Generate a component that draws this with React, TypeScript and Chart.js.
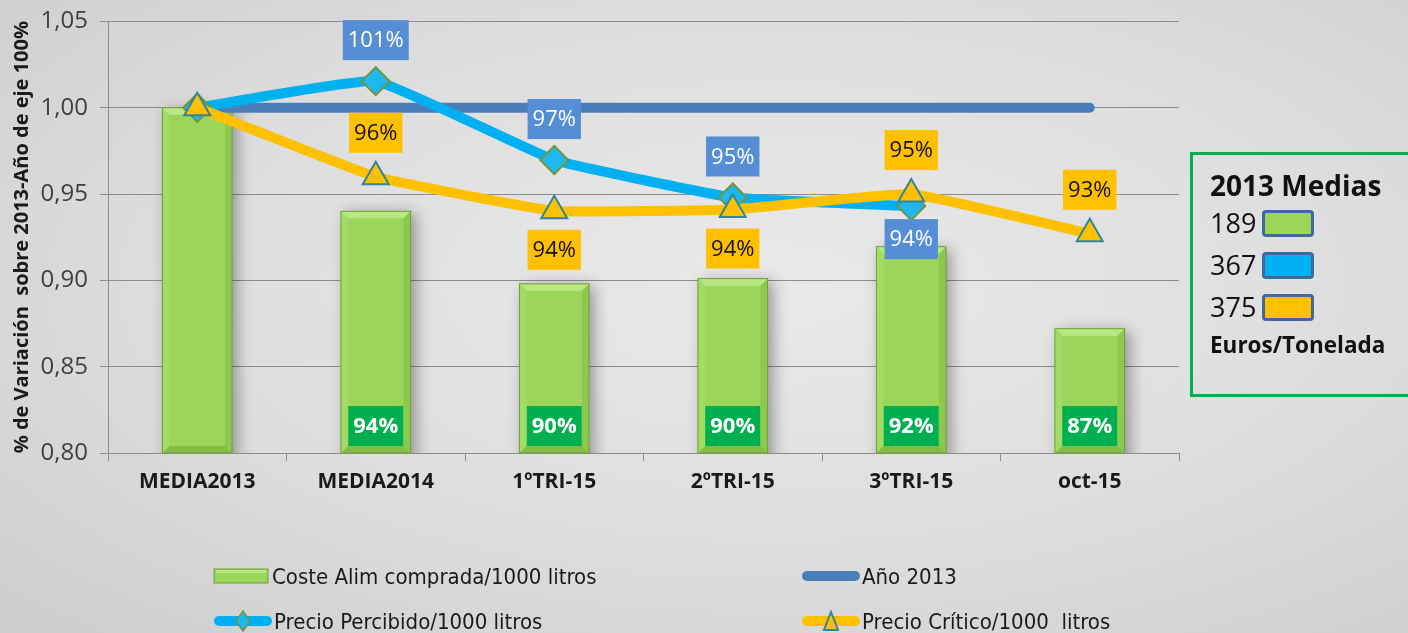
import React, { useEffect, useRef } from "react";
import { Chart, registerables } from "chart.js";
Chart.register(...registerables);

const categories = ["MEDIA2013", "MEDIA2014", "1ºTRI-15", "2ºTRI-15", "3ºTRI-15", "oct-15"];
const costeAlim = [1.0, 0.94, 0.898, 0.901, 0.9195, 0.872];
const ano2013 = [1, 1, 1, 1, 1, 1];
const precioPercibido = [1.0, 1.0154, 0.9697, 0.948, 0.943, null];
const precioCritico = [1.0, 0.96, 0.9403, 0.941, 0.95, 0.927];
const costeLabels = ["", "94%", "90%", "90%", "92%", "87%"];
const percibidoLabels = ["", "101%", "97%", "95%", "94%", ""];
const percibidoLabelPos = ["", "above", "above", "above", "below", ""];
const criticoLabels = ["", "96%", "94%", "94%", "95%", "93%"];
const criticoLabelPos = ["", "above", "below", "below", "above", "above"];
const mediasTitle = "2013 Medias";
const mediasValues = ["189", "367", "375"];
const mediasUnit = "Euros/Tonelada";
const seriesNames = [
  "Coste Alim comprada/1000 litros",
  "Año 2013",
  "Precio Percibido/1000 litros",
  "Precio Crítico/1000  litros",
];

const GREEN = "#9BD65A";
const DARKBLUE = "#4A7EBB";
const BLUE = "#00B0F0";
const YELLOW = "#FFC000";
const FONT = "'Open Sans', Lato, sans-serif";
const NARROW = "'Liberation Sans Narrow', 'DejaVu Sans Condensed', sans-serif";

const labelPlugin = {
  id: "boxLabels",
  beforeDatasetDraw(chart: any, args: any) {
    if (args.meta.type === "bar") {
      const ctx = chart.ctx;
      ctx.save();
      ctx.shadowColor = "rgba(0,0,0,0.35)";
      ctx.shadowBlur = 14;
      ctx.shadowOffsetX = 5;
      ctx.shadowOffsetY = 2;
    }
  },
  afterDatasetDraw(chart: any, args: any) {
    if (args.meta.type !== "bar") return;
    const ctx = chart.ctx;
    ctx.restore();
    const b = 7;
    const bottom = chart.chartArea.bottom;
    args.meta.data.forEach((el: any) => {
      const p = el.getProps(["x", "y", "base", "width"], true);
      const x = p.x;
      const y = p.y;
      const width = p.width;
      const base = Math.min(p.base, bottom);
      const l = x - width / 2;
      const r = x + width / 2;
      const poly = (pts: number[][], color: string) => {
        ctx.beginPath();
        ctx.moveTo(pts[0][0], pts[0][1]);
        pts.slice(1).forEach((q) => ctx.lineTo(q[0], q[1]));
        ctx.closePath();
        ctx.fillStyle = color;
        ctx.fill();
      };
      ctx.save();
      poly([[l, y], [r, y], [r - b, y + b], [l + b, y + b]], "#B9E883");
      poly([[l, base], [r, base], [r - b, base - b], [l + b, base - b]], "#84BC47");
      poly([[l, y], [l + b, y + b], [l + b, base - b], [l, base]], "#A4DB66");
      poly([[r, y], [r - b, y + b], [r - b, base - b], [r, base]], "#8CC74E");
      ctx.strokeStyle = "#6F9F3A";
      ctx.lineWidth = 1;
      ctx.strokeRect(l, y, width, base - y);
      ctx.restore();
    });
  },
  afterDatasetsDraw(chart: any) {
    const ctx = chart.ctx;
    const xs = chart.scales.x;
    const ys = chart.scales.y;
    const drawBox = (cx: number, cy: number, text: string, bg: string, fg: string, bold: boolean) => {
      ctx.save();
      ctx.font = `${bold ? "bold " : ""}22px ${FONT}`;
      const w = ctx.measureText(text).width + 10;
      const h = 40;
      ctx.fillStyle = bg;
      ctx.fillRect(cx - w / 2, cy - h / 2, w, h);
      ctx.fillStyle = fg;
      ctx.textAlign = "center";
      ctx.textBaseline = "middle";
      ctx.fillText(text, cx, cy + 1);
      ctx.restore();
    };
    categories.forEach((_, i) => {
      const cx = xs.getPixelForValue(i);
      if (costeLabels[i]) {
        drawBox(cx, ys.getPixelForValue(0.8) - 27, costeLabels[i], "#00B050", "#ffffff", true);
      }
      if (percibidoLabels[i] && precioPercibido[i] != null) {
        const py = ys.getPixelForValue(precioPercibido[i] as number);
        const cy = percibidoLabelPos[i] === "above" ? py - 41 : py + 33;
        drawBox(cx, cy, percibidoLabels[i], "#558ED5", "#ffffff", false);
      }
      if (criticoLabels[i]) {
        const py = ys.getPixelForValue(precioCritico[i]);
        const cy = criticoLabelPos[i] === "above" ? py - 44 : py + 39;
        drawBox(cx, cy, criticoLabels[i], YELLOW, "#111111", false);
      }
    });
  },
};

function LineSwatch({ color, marker }: { color: string; marker?: string }) {
  return (
    <svg width="58" height="22" style={{ display: "block" }}>
      <line x1="5" y1="11" x2="53" y2="11" stroke={color} strokeWidth="10" strokeLinecap="round" />
      {marker === "diamond" && (
        <polygon points="29,1 36,11 29,21 22,11" fill="#1EB8F0" stroke="#77933C" strokeWidth="1.5" />
      )}
      {marker === "triangle" && (
        <polygon points="29,2 36,20 22,20" fill={YELLOW} stroke="#31859C" strokeWidth="2" />
      )}
    </svg>
  );
}

function BarSwatch() {
  return (
    <svg width="58" height="22" style={{ display: "block" }}>
      <rect x="2" y="4" width="54" height="14" fill={GREEN} stroke="#6E9E34" strokeWidth="1" />
      <rect x="4" y="5" width="50" height="3" fill="#B9E883" />
    </svg>
  );
}

export default function App() {
  const canvasRef = useRef<HTMLCanvasElement | null>(null);

  useEffect(() => {
    const canvas = canvasRef.current;
    if (!canvas) return;
    const chart = new Chart(canvas, {
      type: "bar",
      data: {
        labels: categories,
        datasets: [
          {
            type: "line",
            label: seriesNames[3],
            data: precioCritico,
            borderColor: YELLOW,
            backgroundColor: YELLOW,
            borderWidth: 10,
            tension: 0.1,
            pointStyle: "triangle",
            pointRadius: 15,
            pointBackgroundColor: YELLOW,
            pointBorderColor: "#31859C",
            pointBorderWidth: 2,
            order: 1,
          } as any,
          {
            type: "line",
            label: seriesNames[2],
            data: precioPercibido,
            borderColor: BLUE,
            backgroundColor: BLUE,
            borderWidth: 10,
            tension: 0.1,
            pointStyle: "rectRot",
            pointRadius: 14,
            pointBackgroundColor: "#1EB8F0",
            pointBorderColor: "#77933C",
            pointBorderWidth: 2,
            order: 2,
          } as any,
          {
            type: "line",
            label: seriesNames[1],
            data: ano2013,
            borderColor: DARKBLUE,
            backgroundColor: DARKBLUE,
            borderWidth: 10,
            borderCapStyle: "round",
            pointRadius: 0,
            order: 3,
          } as any,
          {
            type: "bar",
            label: seriesNames[0],
            data: costeAlim,
            backgroundColor: GREEN,
            borderColor: "#6F9F3A",
            borderWidth: 0,
            barPercentage: 0.39,
            categoryPercentage: 1,
            order: 4,
          } as any,
        ],
      },
      options: {
        animation: false,
        responsive: false,
        maintainAspectRatio: false,
        layout: { padding: { top: 13, right: 6, left: 0, bottom: 0 } },
        plugins: {
          legend: { display: false },
          tooltip: { enabled: false },
        },
        scales: {
          x: {
            offset: true,
            grid: {
              display: true,
              drawOnChartArea: false,
              drawTicks: true,
              tickLength: 8,
              offset: true,
              color: "#8c8c8c",
            },
            border: { display: true, color: "#8c8c8c" },
            ticks: {
              color: "#1a1a1a",
              padding: 8,
              font: { family: FONT, size: 21, weight: "bold" },
            },
            afterFit: (s: any) => {
              s.height = 47;
            },
          },
          y: {
            min: 0.8,
            max: 1.05,
            ticks: {
              stepSize: 0.05,
              color: "#404040",
              padding: 12,
              font: { family: FONT, size: 24 },
              callback: (v: any) => Number(v).toFixed(2).replace(".", ","),
            },
            grid: { color: "#8c8c8c", lineWidth: 1, tickLength: 8 },
            border: { display: true, color: "#8c8c8c" },
            title: {
              display: true,
              text: "% de Variación  sobre 2013-Año de eje 100%",
              color: "#1a1a1a",
              font: { family: FONT, size: 20, weight: "bold" },
              padding: { top: 10, bottom: 2 },
            },
            afterFit: (s: any) => {
              s.width = 108;
            },
          },
        },
      },
      plugins: [labelPlugin],
    });
    return () => chart.destroy();
  }, []);

  const legendText: React.CSSProperties = {
    fontFamily: NARROW,
    fontSize: 22,
    color: "#1a1a1a",
    whiteSpace: "pre",
    marginLeft: 2,
  };
  const legendItem = (left: number, top: number, swatch: React.ReactNode, text: string) => (
    <div style={{ position: "absolute", left, top: top - 12, height: 24, display: "flex", alignItems: "center" }}>
      {swatch}
      <span style={legendText}>{text}</span>
    </div>
  );

  const swatchBox = (color: string) => (
    <span
      style={{
        display: "inline-block",
        width: 46,
        height: 21,
        background: color,
        border: "3px solid #41689A",
        borderRadius: 4,
        marginLeft: 6,
      }}
    />
  );

  return (
    <div
      style={{
        position: "fixed",
        left: 0,
        top: 0,
        width: 1408,
        height: 633,
        overflow: "hidden",
        background: "radial-gradient(ellipse at 55% 45%, #e9e9e9 0%, #dddddd 55%, #cdcdcd 100%)",
      }}
    >
      <div style={{ position: "absolute", left: 0, top: -5, width: 1196, height: 505 }}>
        <canvas ref={canvasRef} width={1196} height={505} style={{ width: 1196, height: 505 }} />
      </div>
      {legendItem(212, 576, <BarSwatch />, seriesNames[0])}
      {legendItem(802, 576, <LineSwatch color={DARKBLUE} />, seriesNames[1])}
      {legendItem(214, 621, <LineSwatch color={BLUE} marker="diamond" />, seriesNames[2])}
      {legendItem(802, 621, <LineSwatch color={YELLOW} marker="triangle" />, seriesNames[3])}
      <div
        style={{
          position: "absolute",
          left: 1190,
          top: 152,
          width: 240,
          height: 239,
          border: "3px solid #00B050",
          fontFamily: FONT,
          color: "#111",
        }}
      >
        <div style={{ position: "absolute", left: 17, top: 12, fontSize: 28, fontWeight: "bold", lineHeight: "36px" }}>
          {mediasTitle}
        </div>
        {mediasValues.map((v, i) => (
          <div
            key={v}
            style={{
              position: "absolute",
              left: 17,
              top: 51 + i * 42,
              fontSize: 27,
              lineHeight: "34px",
              display: "flex",
              alignItems: "center",
            }}
          >
            <span>{v}</span>
            {swatchBox([GREEN, BLUE, YELLOW][i])}
          </div>
        ))}
        <div style={{ position: "absolute", left: 17, top: 175, fontSize: 22.5, fontWeight: "bold", lineHeight: "30px" }}>
          {mediasUnit}
        </div>
      </div>
    </div>
  );
}
